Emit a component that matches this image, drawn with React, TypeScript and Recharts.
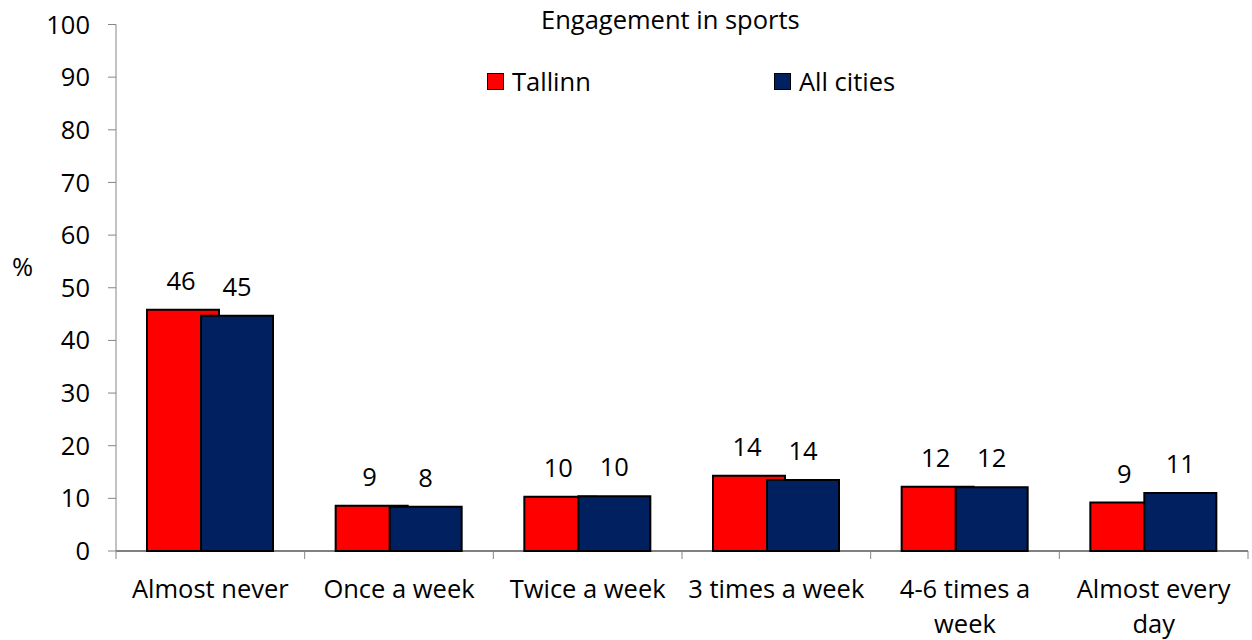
import { BarChart, Bar, XAxis, YAxis, Legend, LabelList } from 'recharts'

const categories = ['Almost never', 'Once a week', 'Twice a week', '3 times a week', '4-6 times a week', 'Almost every day']
const tallinn = [45.8, 8.6, 10.3, 14.3, 12.2, 9.2]
const allCities = [44.7, 8.4, 10.4, 13.5, 12.1, 11.0]
const yTicks = [0, 10, 20, 30, 40, 50, 60, 70, 80, 90, 100]
const wrapped: Record<string, string[]> = {
  '4-6 times a week': ['4-6 times a', 'week'],
  'Almost every day': ['Almost every', 'day'],
}

const data = categories.map((c, i) => ({ name: c, tallinn: tallinn[i], all: allCities[i] }))

const FONT = '"Open Sans", "Noto Sans", sans-serif'
const FS = 25.5
const RED = '#ff0000'
const NAVY = '#002060'

const XTick = (props: any) => {
  const { x, y, payload, index } = props
  const half = payload?.offset ?? 94.3
  const lines = wrapped[payload.value] ?? [payload.value]
  return (
    <g>
      <line x1={x - half} x2={x - half} y1={y} y2={y + 8} stroke="#868686" />
      {index === categories.length - 1 && (
        <line x1={x + half} x2={x + half} y1={y} y2={y + 8} stroke="#868686" />
      )}
      {lines.map((l, i) => (
        <text key={l} x={x} y={y + 47 + i * 35} textAnchor="middle" fontSize={FS} fill="#000">
          {l}
        </text>
      ))}
    </g>
  )
}

const makeLabel = (dx: number) => (p: any) => {
  const { x, y, width, value } = p
  return (
    <text x={x + width / 2 + dx} y={y - 20} textAnchor="middle" fontSize={FS} fill="#000">
      {Math.round(value)}
    </text>
  )
}

const LegendBox = () => (
  <div style={{ position: 'relative', width: 1252, height: 100, fontSize: FS, color: '#000', lineHeight: '31px' }}>
    <div style={{ position: 'absolute', left: 541, top: 3.6 }}>Engagement in sports</div>
    <div style={{ position: 'absolute', left: 487, top: 65.6, display: 'flex', alignItems: 'center' }}>
      <span style={{ width: 15, height: 15, background: RED, border: '1.5px solid #000', marginRight: 8 }} />
      Tallinn
    </div>
    <div style={{ position: 'absolute', left: 774, top: 65.6, display: 'flex', alignItems: 'center' }}>
      <span style={{ width: 15, height: 15, background: NAVY, border: '1.5px solid #000', marginRight: 8 }} />
      All cities
    </div>
  </div>
)

export default function App() {
  return (
    <div style={{ position: 'fixed', left: 0, top: 0, background: '#fff', fontFamily: FONT }}>
      <BarChart
        width={1252}
        height={640}
        data={data}
        margin={{ top: 24.5, right: 4, bottom: 29, left: 56 }}
        barSize={72}
        barGap={-18}
      >
        <Legend
          layout="horizontal"
          verticalAlign="middle"
          align="center"
          content={<LegendBox />}
          wrapperStyle={{ top: 0, left: 0, width: 1252 }}
        />
        <XAxis
          dataKey="name"
          stroke="#000"
          tickLine={false}
          tickSize={0}
          tickMargin={0}
          interval={0}
          height={60}
          tick={<XTick />}
        />
        <YAxis
          domain={[0, 100]}
          ticks={yTicks}
          interval={0}
          width={60}
          stroke="#868686"
          tickSize={8}
          tickMargin={18}
          tick={{ fill: '#000', fontSize: FS }}
          label={{
            content: () => (
              <text x={12} y={276} fontSize={FS} fill="#000">
                %
              </text>
            ),
          }}
        />
        <Bar dataKey="tallinn" name="Tallinn" fill={RED} stroke="#000" strokeWidth={2} isAnimationActive={false}>
          <LabelList dataKey="tallinn" content={makeLabel(-2)} />
        </Bar>
        <Bar dataKey="all" name="All cities" fill={NAVY} stroke="#000" strokeWidth={2} isAnimationActive={false}>
          <LabelList dataKey="all" content={makeLabel(0)} />
        </Bar>
      </BarChart>
    </div>
  )
}
